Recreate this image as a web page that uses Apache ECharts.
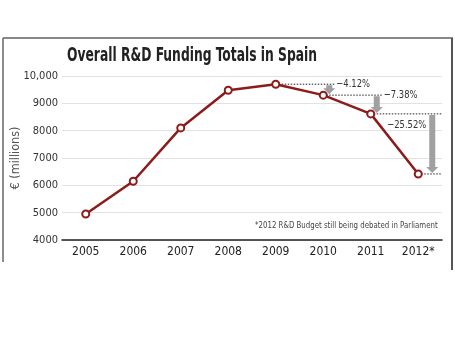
<!DOCTYPE html>
<html>
<head>
<meta charset="utf-8">
<script src="https://cdn.jsdelivr.net/npm/echarts@6/dist/echarts.min.js"></script>
<style>
html, body { margin: 0; padding: 0; background: #fff; }
#main { width: 455px; height: 341px; }
</style>
</head>
<body>
<div id="main"></div>
<script>
var years = ['2005', '2006', '2007', '2008', '2009', '2010', '2011', '2012*'];
var funding = [4950, 6150, 8100, 9480, 9700, 9300, 8614, 6416];
var drops = [[4, 5, '\u22124.12%'], [5, 6, '\u22127.38%'], [6, 7, '\u221225.52%']];

var font = "'Liberation Sans Narrow', 'DejaVu Sans Condensed', 'Liberation Sans', sans-serif";
var dom = document.getElementById('main');
var myChart = echarts.init(dom);

function arrowShape(x, y1, y2) {
    var head = 6;
    return [[x - 3, y1], [x + 3, y1], [x + 3, y2 - head], [x + 6, y2 - head],
        [x, y2], [x - 6, y2 - head], [x - 3, y2 - head]];
}

var option = {
    animation: false,
    grid: { left: 62, right: 13, top: 76, bottom: 101, outerBoundsMode: 'none', containLabel: false },
    graphic: [
        { type: 'line', shape: { x1: 3, y1: 38, x2: 453, y2: 38 }, style: { stroke: '#888', lineWidth: 2 } },
        { type: 'line', shape: { x1: 3, y1: 38, x2: 3, y2: 262 }, style: { stroke: '#666', lineWidth: 1.5 } },
        { type: 'line', shape: { x1: 452, y1: 38, x2: 452, y2: 270 }, style: { stroke: '#555', lineWidth: 2 } },
        {
            type: 'text', x: 67, y: 47, scaleX: 0.72,
            style: { text: 'Overall R&D Funding Totals in Spain', font: 'bold 19px ' + font, fill: '#222' }
        },
        {
            type: 'text', x: 255, y: 221, scaleX: 0.82,
            style: { text: '*2012 R&D Budget still being debated in Parliament', font: '9.5px ' + font, fill: '#444' }
        }
    ],
    xAxis: {
        type: 'category',
        data: years,
        boundaryGap: true,
        axisLine: { lineStyle: { color: '#222', width: 1.5 } },
        axisTick: { inside: true, length: 3, lineStyle: { color: '#222' } },
        axisLabel: { fontFamily: font, fontSize: 12, color: '#222', margin: 6 }
    },
    yAxis: {
        type: 'value',
        min: 4000, max: 10000, interval: 1000,
        name: '\u20ac (millions)',
        nameLocation: 'middle',
        nameGap: 40,
        nameMoveOverlap: false,
        nameTextStyle: { fontFamily: font, fontSize: 12.5, color: '#555' },
        axisLine: { show: false },
        axisTick: { show: false },
        splitLine: { lineStyle: { color: '#e2e2e2', width: 1.2 } },
        axisLabel: {
            fontFamily: font, fontSize: 11, color: '#333', margin: 4,
            formatter: function (v) { return v === 10000 ? '10,000' : String(v); }
        }
    },
    series: [
        {
            type: 'custom',
            data: drops.map(function (d) { return [d[0], d[1]]; }),
            z: 1,
            renderItem: function (params, api) {
                var d = drops[params.dataIndex];
                var p1 = api.coord([d[0], funding[d[0]]]);
                var p2 = api.coord([d[1], funding[d[1]]]);
                var last = params.dataIndex === drops.length - 1;
                var ax = p2[0] + (last ? 14 : 6);
                var lineEnd = last ? ax + 9 : ax + 5;
                var dash = { stroke: '#222', lineWidth: 1, lineDash: [1.5, 1.5] };
                var children = [
                    { type: 'line', shape: { x1: p1[0], y1: p1[1], x2: lineEnd, y2: p1[1] }, style: dash },
                    { type: 'polygon', shape: { points: arrowShape(ax, p1[1] + 1, p2[1] - 1) }, style: { fill: '#a0a0a0' } }
                ];
                if (last) {
                    children.push({ type: 'line', shape: { x1: p2[0], y1: p2[1], x2: lineEnd, y2: p2[1] }, style: dash });
                    children.push({ type: 'text', x: ax - 6, y: p1[1] + 11, scaleX: 0.85, style: { text: d[2], x: 0, y: 0, align: 'right', verticalAlign: 'middle', font: '11px ' + font, fill: '#333' } });
                } else {
                    children.push({ type: 'text', x: ax + 7, y: p1[1], scaleX: 0.85, style: { text: d[2], x: 0, y: 0, align: 'left', verticalAlign: 'middle', font: '11px ' + font, fill: '#333' } });
                }
                return { type: 'group', children: children };
            }
        },
        {
            type: 'line',
            data: funding,
            z: 3,
            symbol: 'circle',
            symbolSize: 7,
            itemStyle: { color: '#fff', borderColor: '#8c1c1c', borderWidth: 2 },
            lineStyle: { color: '#8c1c1c', width: 2.5 }
        }
    ]
};

myChart.setOption(option);
</script>
</body>
</html>
